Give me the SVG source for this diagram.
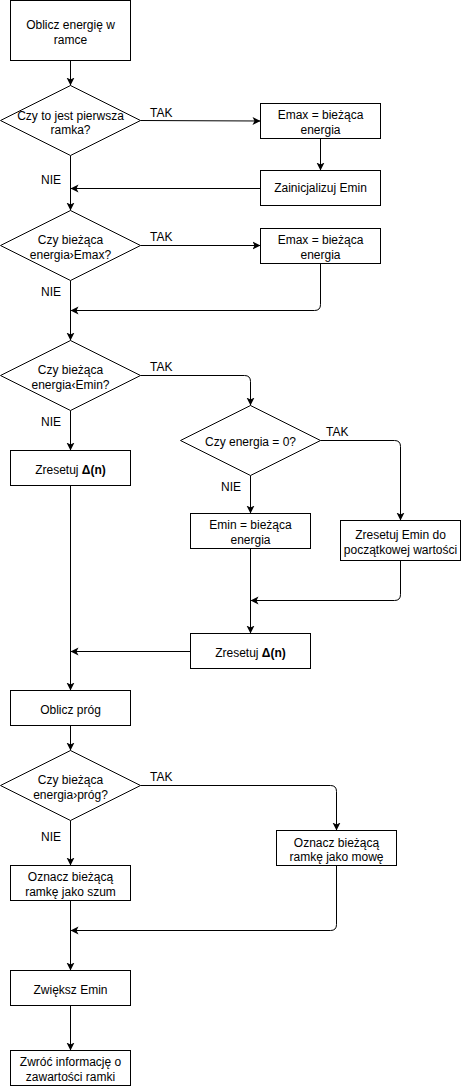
<svg xmlns="http://www.w3.org/2000/svg" width="461" height="1086" viewBox="0 0 461 1086">
<style>
.n{fill:#fff;stroke:#000;stroke-width:1}
.t{font-family:"Liberation Sans",Arial,Helvetica,sans-serif;font-size:12px;fill:#000;text-anchor:middle}
.l{font-family:"Liberation Sans",Arial,Helvetica,sans-serif;font-size:12px;fill:#000}
.c{fill:none;stroke:#000;stroke-width:1;marker-end:url(#a)}
</style>
<defs>
<marker id="a" markerUnits="userSpaceOnUse" markerWidth="10" markerHeight="10" refX="8" refY="4.5" orient="auto">
<path d="M0,0.5 L8,4.5 L0,8.5 L2,4.5 Z" fill="#000"/>
</marker>
</defs>
<rect width="461" height="1086" fill="#fff"/>
<g id="connectors">
<path class="c" d="M70.5,60.5 V85.5"/>
<path class="c" d="M140.5,120.5 L260.5,121"/>
<path class="c" d="M320.5,138.5 V170.5"/>
<path class="c" d="M260.5,188.5 H70.5"/>
<path class="c" d="M70.5,155.5 V210.5"/>
<path class="c" d="M140.5,245.5 H260.5"/>
<path class="c" d="M320.5,263.5 V304.5 Q320.5,310.5 314.5,310.5 H70.5"/>
<path class="c" d="M70.5,280.5 V340.5"/>
<path class="c" d="M140.5,375.5 H244.5 Q250.5,375.5 250.5,381.5 V405.5"/>
<path class="c" d="M320.5,440.5 H394.5 Q400.5,440.5 400.5,446.5 V520.5"/>
<path class="c" d="M250.5,475.5 V513.5"/>
<path class="c" d="M250.5,548.5 V633.5"/>
<path class="c" d="M400.5,560.5 V594.5 Q400.5,600.5 394.5,600.5 H250.5"/>
<path class="c" d="M190.5,651.5 H70.5"/>
<path class="c" d="M70.5,410.5 V450.5"/>
<path class="c" d="M70.5,485.5 V690.5"/>
<path class="c" d="M70.5,725.5 V750.5"/>
<path class="c" d="M140.5,785.5 H330.5 Q336.5,785.5 336.5,791.5 V830.5"/>
<path class="c" d="M336.5,865.5 V924.5 Q336.5,930.5 330.5,930.5 H70.5"/>
<path class="c" d="M70.5,820.5 V865.5"/>
<path class="c" d="M70.5,900.5 V970.5"/>
<path class="c" d="M70.5,1005.5 V1050.5"/>
</g>
<g id="labels">
<text class="l" x="150" y="117">TAK</text>
<text class="l" x="41" y="184">NIE</text>
<text class="l" x="150" y="241">TAK</text>
<text class="l" x="41" y="296">NIE</text>
<text class="l" x="150" y="371">TAK</text>
<text class="l" x="41" y="426">NIE</text>
<text class="l" x="326" y="436">TAK</text>
<text class="l" x="221" y="491">NIE</text>
<text class="l" x="150" y="781">TAK</text>
<text class="l" x="41" y="841">NIE</text>
</g>
<g id="start"><rect class="n" x="10.5" y="0.5" width="120" height="60"/><text class="t" x="70.5" y="29">Oblicz energię w</text><text class="t" x="70.5" y="44">ramce</text></g>
<g id="d1"><polygon class="n" points="70.5,85.5 140.5,120.5 70.5,155.5 0.5,120.5"/><text class="t" x="70.5" y="119.5">Czy to jest pierwsza</text><text class="t" x="70.5" y="134">ramka?</text></g>
<g id="emax1"><rect class="n" x="260.5" y="103.5" width="120" height="35"/><text class="t" x="320.5" y="119">Emax = bieżąca</text><text class="t" x="320.5" y="133.5">energia</text></g>
<g id="init"><rect class="n" x="260.5" y="170.5" width="120" height="35"/><text class="t" x="320.5" y="192">Zainicjalizuj Emin</text></g>
<g id="d2"><polygon class="n" points="70.5,210.5 140.5,245.5 70.5,280.5 0.5,245.5"/><text class="t" x="70.5" y="244">Czy bieżąca</text><text class="t" x="70.5" y="259">energia›Emax?</text></g>
<g id="emax2"><rect class="n" x="260.5" y="228.5" width="120" height="35"/><text class="t" x="320.5" y="244">Emax = bieżąca</text><text class="t" x="320.5" y="259">energia</text></g>
<g id="d3"><polygon class="n" points="70.5,340.5 140.5,375.5 70.5,410.5 0.5,375.5"/><text class="t" x="70.5" y="374">Czy bieżąca</text><text class="t" x="70.5" y="388.5">energia‹Emin?</text></g>
<g id="d4"><polygon class="n" points="250.5,405.5 320.5,440.5 250.5,475.5 180.5,440.5"/><text class="t" x="250.5" y="445.5">Czy energia = 0?</text></g>
<g id="reset1"><rect class="n" x="10.5" y="450.5" width="120" height="35"/><text class="t" x="70.5" y="474">Zresetuj <tspan font-weight="bold">Δ(n)</tspan></text></g>
<g id="emin"><rect class="n" x="190.5" y="513.5" width="120" height="35"/><text class="t" x="250.5" y="529">Emin = bieżąca</text><text class="t" x="250.5" y="544">energia</text></g>
<g id="resetemin"><rect class="n" x="340.5" y="520.5" width="120" height="40"/><text class="t" x="400.5" y="539">Zresetuj Emin do</text><text class="t" x="400.5" y="554">początkowej wartości</text></g>
<g id="reset2"><rect class="n" x="190.5" y="633.5" width="120" height="35"/><text class="t" x="250.5" y="657">Zresetuj <tspan font-weight="bold">Δ(n)</tspan></text></g>
<g id="prog"><rect class="n" x="10.5" y="690.5" width="120" height="35"/><text class="t" x="70.5" y="714">Oblicz próg</text></g>
<g id="d5"><polygon class="n" points="70.5,750.5 140.5,785.5 70.5,820.5 0.5,785.5"/><text class="t" x="70.5" y="784">Czy bieżąca</text><text class="t" x="70.5" y="799">energia›próg?</text></g>
<g id="mowa"><rect class="n" x="276.5" y="830.5" width="120" height="35"/><text class="t" x="336.5" y="846.5">Oznacz bieżącą</text><text class="t" x="336.5" y="861">ramkę jako mowę</text></g>
<g id="szum"><rect class="n" x="10.5" y="865.5" width="120" height="35"/><text class="t" x="70.5" y="881">Oznacz bieżącą</text><text class="t" x="70.5" y="896">ramkę jako szum</text></g>
<g id="zwieksz"><rect class="n" x="10.5" y="970.5" width="120" height="35"/><text class="t" x="70.5" y="994">Zwiększ Emin</text></g>
<g id="zwroc"><rect class="n" x="10.5" y="1050.5" width="120" height="35"/><text class="t" x="70.5" y="1066">Zwróć informację o</text><text class="t" x="70.5" y="1081">zawartości ramki</text></g>
</svg>
